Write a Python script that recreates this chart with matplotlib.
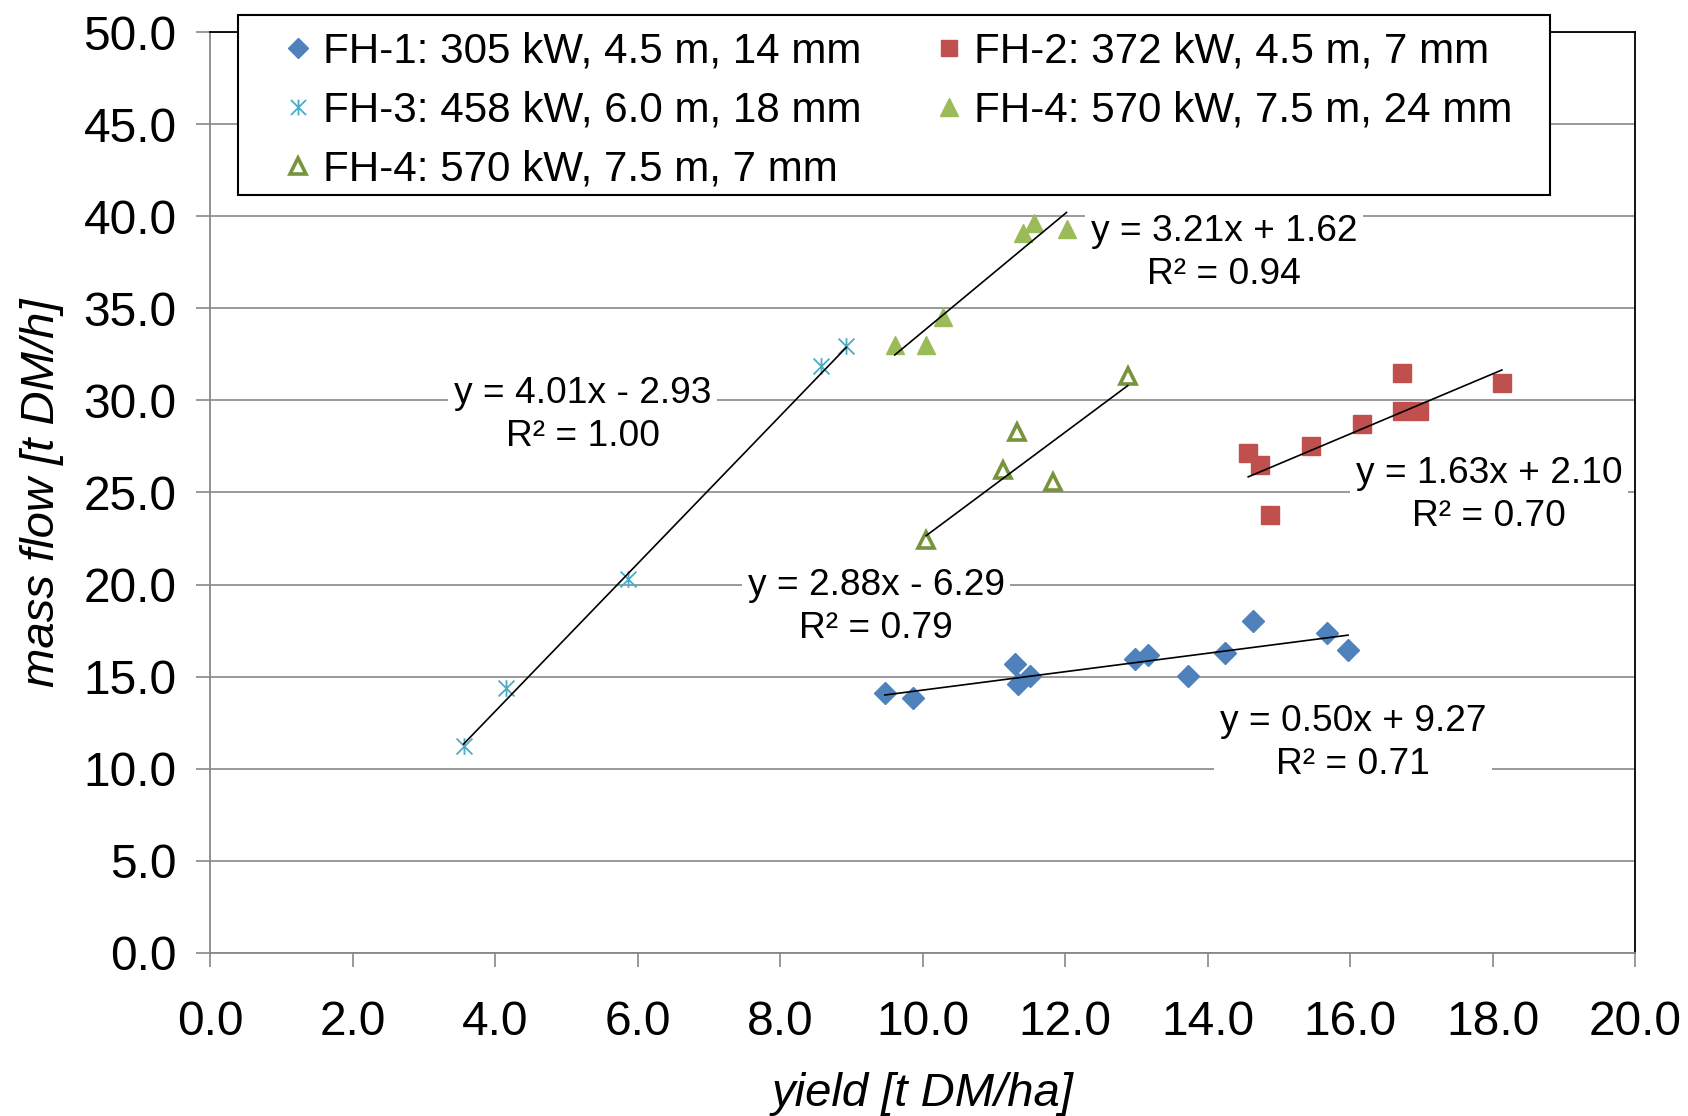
import matplotlib.pyplot as plt
import numpy as np
from matplotlib.path import Path
from matplotlib.patches import Rectangle

# === Data ===
fh1_x = [9.47, 9.86, 11.30, 11.34, 11.51, 12.98, 13.17, 13.73, 14.24, 14.64, 15.68, 15.97]
fh1_y = [14.09, 13.86, 15.67, 14.62, 15.03, 15.96, 16.20, 15.03, 16.30, 18.00, 17.37, 16.43]

fh2_x = [14.57, 14.73, 14.88, 15.45, 16.16, 16.73, 16.73, 16.97, 18.13]
fh2_y = [27.13, 26.49, 23.77, 27.52, 28.72, 31.47, 29.44, 29.44, 30.93]

fh3_x = [3.56, 4.15, 5.87, 8.58, 8.93]
fh3_y = [11.23, 14.36, 20.28, 31.88, 32.95]

fh4a_x = [9.61, 10.05, 10.28, 11.41, 11.56, 12.02]
fh4a_y = [33.00, 33.00, 34.51, 39.07, 39.62, 39.29]

fh4b_x = [10.05, 11.13, 11.32, 11.83, 12.88]
fh4b_y = [22.42, 26.22, 28.30, 25.58, 31.33]

labels = ["FH-1: 305 kW, 4.5 m, 14 mm", "FH-2: 372 kW, 4.5 m, 7 mm",
          "FH-3: 458 kW, 6.0 m, 18 mm", "FH-4: 570 kW, 7.5 m, 24 mm",
          "FH-4: 570 kW, 7.5 m, 7 mm"]

# trendline coefficients (slope, intercept) and R² as printed
fits = {"fh1": (0.50, 9.27, 0.71), "fh2": (1.63, 2.10, 0.70), "fh3": (4.01, -2.93, 1.00),
        "fh4a": (3.21, 1.62, 0.94), "fh4b": (2.88, -6.29, 0.79)}
# label anchor (x, y) in data units
label_pos = {"fh1": (16.04, 11.4), "fh2": (17.95, 24.85), "fh3": (5.23, 29.2),
             "fh4a": (14.23, 38.0), "fh4b": (9.35, 18.77)}

# === Style ===
plt.rcParams['font.family'] = ['Liberation Sans', 'DejaVu Sans']
grid_c = "#888888"

star = Path([(-1, -1), (1, 1), (-1, 1), (1, -1), (0, -1.05), (0, 1.05)],
            [Path.MOVETO, Path.LINETO, Path.MOVETO, Path.LINETO, Path.MOVETO, Path.LINETO])

fig = plt.figure(figsize=(16.88, 11.16), dpi=100)
ax = fig.add_axes([0.1244, 0.1461, 0.8443, 0.8252])

series = [
    ("fh1", fh1_x, fh1_y, dict(marker="D", ms=11, color="#4F81BD", mec="#4F81BD")),
    ("fh2", fh2_x, fh2_y, dict(marker="s", ms=12.5, color="#C0504D", mec="#C0504D")),
    ("fh3", fh3_x, fh3_y, dict(marker=star, ms=12, color="#4BACC6", mec="#4BACC6", mew=1.3, mfc="none")),
    ("fh4a", fh4a_x, fh4a_y, dict(marker="^", ms=13, color="#9BBB59", mec="#9BBB59")),
    ("fh4b", fh4b_x, fh4b_y, dict(marker="^", ms=12, color="#77933C", mec="#77933C", mfc="white", mew=2.6)),
]

handles = []
for (key, xs, ys, kw), lab in zip(series, labels):
    h, = ax.plot(xs, ys, ls="none", label=lab, zorder=3, **kw)
    handles.append(h)

# trendlines + equation labels
for key, xs, ys, kw in series:
    m, b, r2 = fits[key]
    xx = np.array([min(xs), max(xs)])
    ax.plot(xx, m * xx + b, color="black", lw=1.2, zorder=4)
    sign = "+" if b >= 0 else "-"
    txt = f"y = {m:.2f}x {sign} {abs(b):.2f}\nR² = {r2:.2f}"
    lx, ly = label_pos[key]
    ax.text(lx, ly, txt, ha="center", va="center", fontsize=26.7, linespacing=1.28,
            zorder=5, bbox=dict(boxstyle="square,pad=0.15", fc="white", ec="none"))

# === Axes ===
ax.set_xlim(0, 20)
ax.set_ylim(0, 50)
ax.set_xticks(np.arange(0, 20.1, 2))
ax.set_yticks(np.arange(0, 50.1, 5))
ax.set_xticklabels([f"{v:.1f}" for v in np.arange(0, 20.1, 2)])
ax.set_yticklabels([f"{v:.1f}" for v in np.arange(0, 50.1, 5)])
ax.tick_params(axis="both", direction="out", length=10, width=1.2, color=grid_c,
               labelsize=34.5)
ax.tick_params(axis="x", pad=24)
ax.tick_params(axis="y", pad=14)
ax.yaxis.grid(True, color=grid_c, lw=1.2)
ax.set_axisbelow(True)
for s in ["left", "bottom"]:
    ax.spines[s].set_color(grid_c)
    ax.spines[s].set_linewidth(1.3)
for s in ["top", "right"]:
    ax.spines[s].set_color("black")
    ax.spines[s].set_linewidth(1.3)

ax.set_xlabel("yield [t DM/ha]", fontsize=34, style="italic", labelpad=19)
ax.set_ylabel("mass flow [t DM/h]", fontsize=34, style="italic", labelpad=14)

# === Legend (row-wise order like the original, frame drawn separately) ===
frame = Rectangle((238 / 1688, 1 - 195 / 1116), 1312 / 1688, 180 / 1116,
                  transform=fig.transFigure, fc="white", ec="black", lw=1.5, zorder=4)
fig.add_artist(frame)

order = [0, 2, 4, 1, 3]
leg = fig.legend([handles[i] for i in order], [labels[i] for i in order], ncol=2, loc="upper left",
                 bbox_to_anchor=(0.1692, 0.8715, 0.7268, 0.1), bbox_transform=fig.transFigure,
                 mode="expand", borderaxespad=0, fontsize=30.3, frameon=False,
                 handlelength=0.6, handletextpad=0.3, labelspacing=0.45, borderpad=0,
                 markerscale=0.95)

plt.savefig("out.png", dpi=100)
